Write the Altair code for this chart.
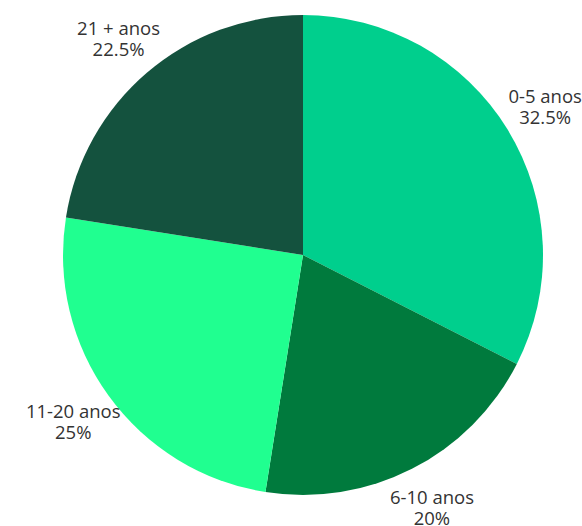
import altair as alt
import pandas as pd

categories = ["0-5 anos", "6-10 anos", "11-20 anos", "21 + anos"]
values = [32.5, 20, 25, 22.5]
colors = ["#00cf8d", "#007a3d", "#20ff90", "#14523e"]

df = pd.DataFrame({"cat": categories, "value": values, "order": list(range(len(categories)))})

base = alt.Chart(df).encode(
    theta=alt.Theta("value:Q", stack=True),
    order=alt.Order("order:Q"),
)

pie = base.mark_arc(outerRadius=240, stroke=None).encode(
    color=alt.Color("cat:N", scale=alt.Scale(domain=categories, range=colors), legend=None)
)

labels = base.transform_calculate(
    label="datum.cat + '\\n' + datum.value + '%'"
).mark_text(
    radius=284, font="Open Sans", fontSize=18.5, color="#333333",
    lineBreak="\n", lineHeight=21, align="center", baseline="middle", dy=-10
).encode(text="label:N")

chart = (pie + labels).properties(
    width=558, height=510,
    padding={"left": 24, "top": 0, "right": 0, "bottom": 16},
    autosize=alt.AutoSizeParams(type="none"),
).configure_view(stroke=None)

chart.save("out.html", embed_options={"renderer": "svg", "actions": False})
